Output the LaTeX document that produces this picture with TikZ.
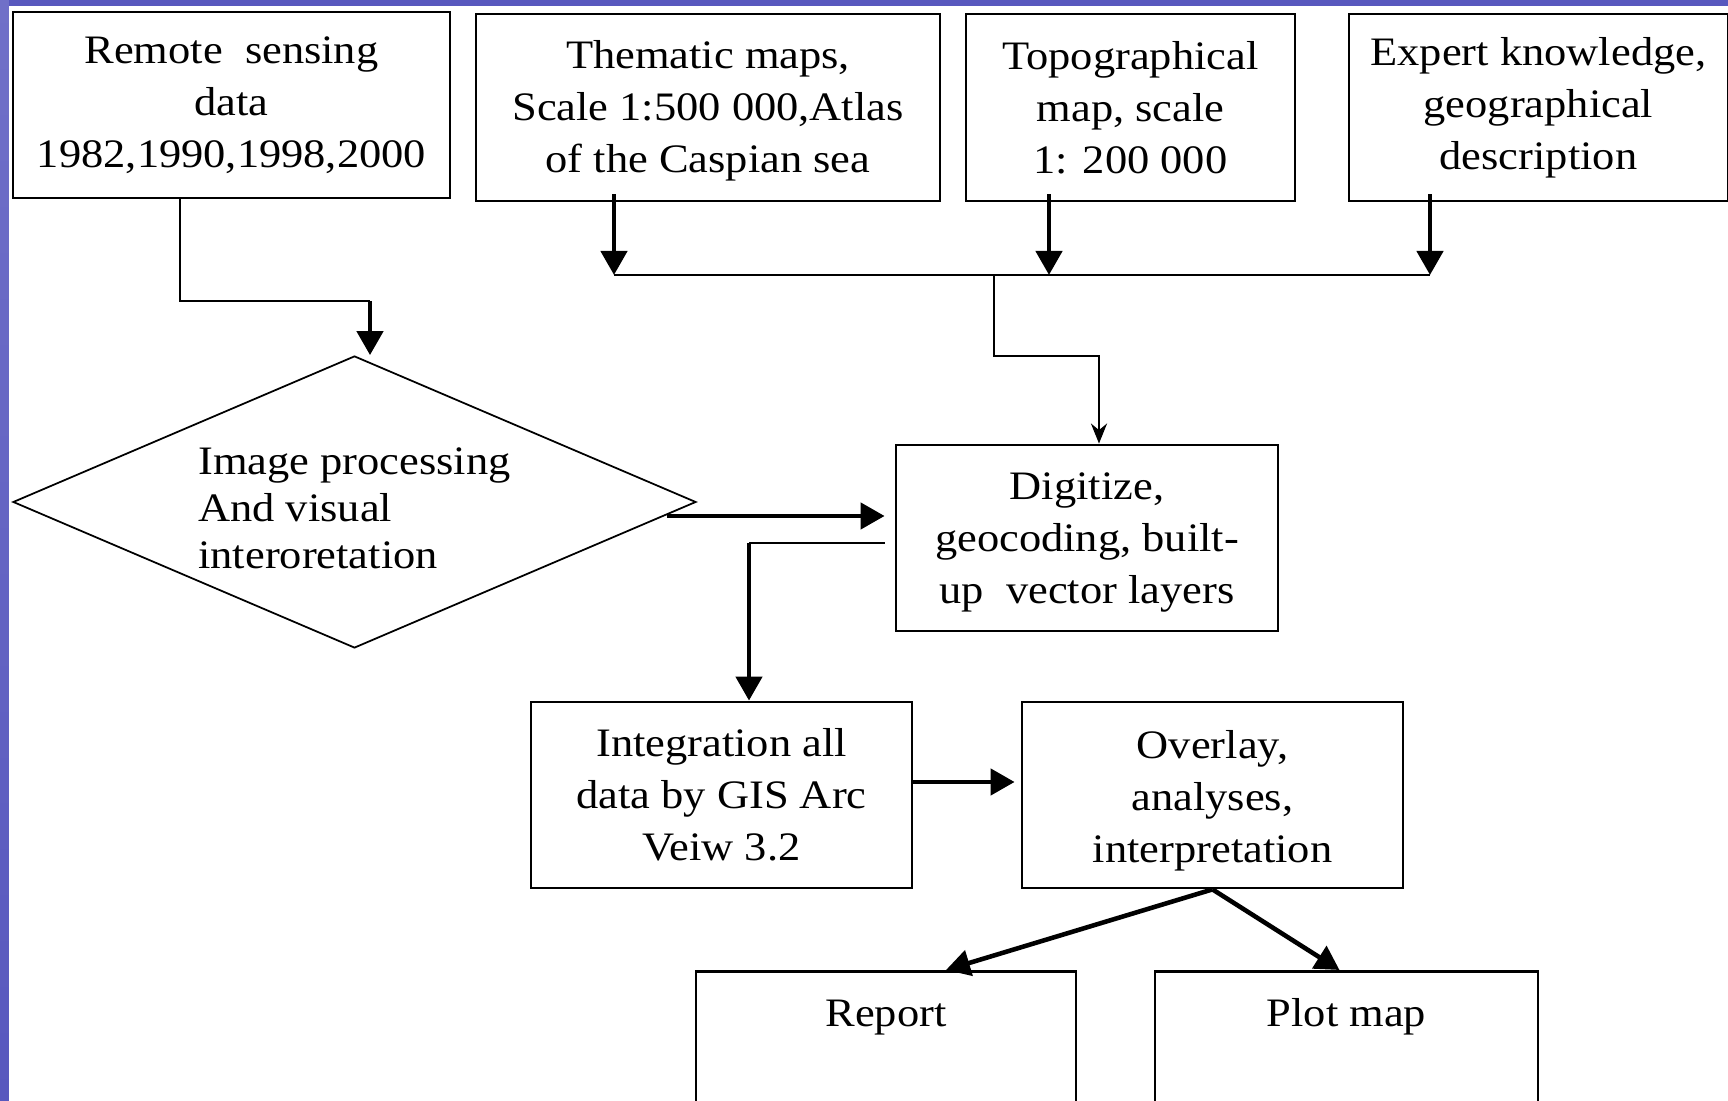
\documentclass[tikz,border=0pt]{standalone}
\usepackage{fontspec}
\setmainfont[FakeStretch=1.1]{Liberation Serif}
\usetikzlibrary{shapes.geometric,arrows.meta}

\definecolor{slideblue}{HTML}{5858BE}
\definecolor{slidetop}{HTML}{7070C8}
\definecolor{slidepale}{HTML}{D8D8F0}

\tikzset{
  blockbox/.style={draw, line width=0.8pt, rectangle, align=center,
    minimum height=1.86cm, inner sep=0pt,
    font=\fontsize{11.5pt}{14.8pt}\selectfont},
  endbox/.style={blockbox, anchor=north, minimum height=0pt,
    text height=0.3cm, text depth=1.3cm, inner ysep=0.25cm},
  decision/.style={draw, line width=0.5pt, diamond, aspect=2.34, inner sep=0pt,
    minimum width=6.83cm, minimum height=2.92cm, align=left,
    font=\fontsize{11.5pt}{13.3pt}\selectfont},
  conn/.style={line width=0.8pt},
  bigarrow/.style={line width=1.3pt, -{Triangle[length=2.4mm,width=2.6mm]}},
  smallarrow/.style={conn, -{Stealth[length=2mm,width=1.6mm]}}
}

\begin{document}
\begin{tikzpicture}
    \useasboundingbox (0,0) rectangle (17.28,-11.01);
    \clip (0,0) rectangle (17.28,-11.01);

    % slide background
    \fill[slideblue] (0,0) rectangle (17.28,-0.065);
    \shade[top color=slidetop, middle color=slidepale, bottom color=slideblue]
        (0,0) rectangle (0.09,-11.01);

    % sources
    \node[blockbox, minimum width=4.37cm] (remote) at (2.315,-1.05)
        {Remote\ \ sensing\\data\\1982,1990,1998,2000};
    \node[blockbox, minimum width=4.64cm, minimum height=1.87cm] (thematic) at (7.08,-1.075)
        {\rule{0pt}{10pt}Thematic maps,\\Scale 1:500 000,Atlas\\of the Caspian sea};
    \node[blockbox, minimum width=3.29cm, minimum height=1.87cm] (topo) at (11.305,-1.075)
        {Topographical\\map, scale\\1: 200 000};
    \node[blockbox, minimum width=3.79cm, minimum height=1.87cm] (expert) at (15.385,-1.075)
        {Expert knowledge,\\geographical\\description};

    % processing
    \node[decision] (dia) at (3.545,-5.02)
        {\rule{0pt}{11.3pt}Image processing\\And visual\\interoretation};
    \node[blockbox, minimum width=3.82cm] (digit) at (10.87,-5.38)
        {\rule{0pt}{10pt}Digitize,\\geocoding, built-\\up\ \ vector layers};
    \node[blockbox, minimum width=3.81cm] (integ) at (7.215,-7.95)
        {Integration all\\data by GIS Arc\\Veiw 3.2};
    \node[blockbox, minimum width=3.81cm] (overlay) at (12.125,-7.95)
        {\rule{0pt}{11pt}Overlay,\\analyses,\\interpretation};

    % outputs
    \node[endbox, minimum width=3.80cm] (report) at (8.86,-9.70) {Report};
    \node[endbox, minimum width=3.83cm] (plot) at (13.465,-9.70) {Plot map};

    % bends and bus
    \coordinate (rbend) at (3.70,-3.01);
    \coordinate (busL) at (6.14,-2.75);
    \coordinate (busM) at (9.94,-2.75);
    \coordinate (busT) at (10.49,-2.75);
    \coordinate (busR) at (14.30,-2.75);
    \coordinate (dbus) at (10.99,-3.56);
    \coordinate (dout) at (6.67,-5.16);
    \coordinate (ibend) at (7.49,-5.43);

    \draw[conn] ([xshift=-5.15mm]remote.south) |- (rbend);
    \draw[bigarrow] (rbend) -- (rbend |- dia.north);

    \draw[conn] (busL) -- (busR);
    \foreach \src/\dst in {thematic/busL, topo/busT, expert/busR}
        \draw[bigarrow] ([yshift=0.8mm]\src.south -| \dst) -- (\dst);
    \draw[smallarrow] (busM) |- (dbus) -- (dbus |- digit.north);

    \draw[bigarrow, shorten >=1mm] (dout) -- (dout -| digit.west);
    \draw[conn] ([xshift=-1mm]digit.west |- ibend) -- (ibend);
    \draw[bigarrow] (ibend) -- (ibend |- integ.north);

    \draw[bigarrow, shorten >=0.6mm] ([yshift=1.3mm]integ.east) -- ([yshift=1.3mm]overlay.west);
    \draw[bigarrow] (overlay.south) -- ([xshift=6mm]report.north);
    \draw[bigarrow] (overlay.south) -- ([xshift=-0.7mm]plot.north);
\end{tikzpicture}
\end{document}
